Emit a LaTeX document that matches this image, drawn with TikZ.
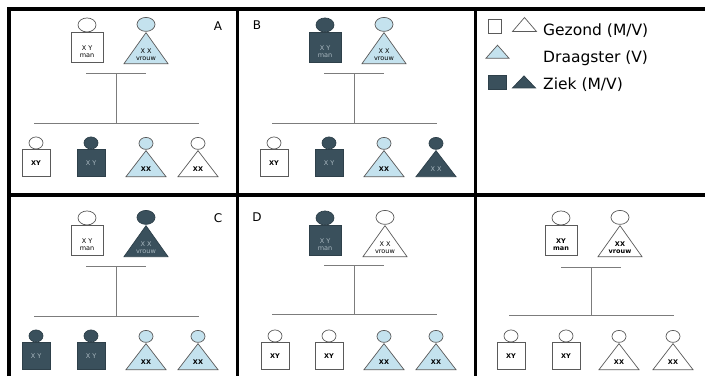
\documentclass[tikz,border=0pt]{standalone}
\usepackage{fontspec}
\setmainfont{DejaVu Sans}
\usepackage{tikz}
\usetikzlibrary{positioning,shapes.geometric,calc}

\definecolor{carrier}{HTML}{C4E2EE}
\definecolor{ill}{HTML}{3A505C}
\definecolor{edge}{HTML}{5A5A5A}
\definecolor{kin}{HTML}{7C7C7C}
\definecolor{pale}{HTML}{A9B8C0}

% one person: body, head on top, text inside
\newcommand\man[5]{%
  \node[#4,#3,anchor=south] (#1) at (#2) {};
  \node[#4 head,#3,above=0pt of #1] (#1h) {};
  \node[txt,#4 txt,#3 text] (#1t) at (#1) {#5};}
\newcommand\woman[5]{%
  \node[#4,#3,anchor=lower side] (#1) at (#2) {};
  \node[#4 head,#3,above=0pt of #1.apex] (#1h) {};
  \node[txt,#3 text] (#1t) at ($(#1.apex)!0.7!(#1.lower side)$) {#5};}

\begin{document}
\begin{tikzpicture}[x=1pt,y=-1pt,
    frame/.style={line width=3.6pt},
    line/.style={draw=kin,line width=1pt},
    body/.style={draw=edge,line width=0.7pt,inner sep=0pt},
    psq/.style={body,rectangle,minimum width=32pt,minimum height=30pt},
    csq/.style={body,rectangle,minimum width=28pt,minimum height=27pt},
    ptri/.style={body,isosceles triangle,isosceles triangle stretches,
                 shape border rotate=90,minimum width=44pt,minimum height=31pt},
    ctri/.style={body,isosceles triangle,isosceles triangle stretches,
                 shape border rotate=90,minimum width=40pt,minimum height=26pt},
    psq head/.style={body,ellipse,minimum width=18pt,minimum height=14pt},
    ptri head/.style={psq head},
    csq head/.style={body,ellipse,minimum width=14pt,minimum height=12pt},
    ctri head/.style={csq head},
    psq txt/.style={yshift=-4pt},
    csq txt/.style={},
    txt/.style={inner sep=0pt,align=center,font=\fontsize{6.5}{7}\selectfont},
    well/.style={fill=white},
    well text/.style={text=black},
    carrier/.style={fill=carrier},
    carrier text/.style={text=black},
    ill/.style={fill=ill,draw=ill!80!black},
    ill text/.style={text=pale},
    letter/.style={font=\fontsize{12}{12}\selectfont},
    key/.style={anchor=base west,inner sep=0pt,font=\fontsize{15.5}{15.5}\selectfont}]
  \useasboundingbox (0,0) rectangle (705,376);

  % panel A
  \man{Af}{87,63}{well}{psq}{X Y\\man}
  \woman{Am}{146,64}{carrier}{ptri}{X X\\vrouw}
  \man{A1}{36,177}{well}{csq}{\textbf{XY}}
  \man{A2}{91,177}{ill}{csq}{X Y}
  \woman{A3}{146,177}{carrier}{ctri}{\textbf{XX}}
  \woman{A4}{198,177}{well}{ctri}{\textbf{XX}}
  \coordinate (Au) at (116,73);
  \coordinate (As) at (116,123);
  \draw[line] ([xshift=-30pt]Au) -- ([xshift=30pt]Au) (Au) -- (As)
              ([xshift=-82pt]As) -- ([xshift=83pt]As);
  \node[letter] (Al) at (218,26) {A};

  % panel B
  \begin{scope}[shift={(238,0)}]
  \man{Bf}{87,63}{ill}{psq}{X Y\\man}
  \woman{Bm}{146,64}{carrier}{ptri}{X X\\vrouw}
  \man{B1}{36,177}{well}{csq}{\textbf{XY}}
  \man{B2}{91,177}{ill}{csq}{X Y}
  \woman{B3}{146,177}{carrier}{ctri}{\textbf{XX}}
  \woman{B4}{198,177}{ill}{ctri}{X X}
  \coordinate (Bu) at (116,73);
  \coordinate (Bs) at (116,123);
  \draw[line] ([xshift=-30pt]Bu) -- ([xshift=30pt]Bu) (Bu) -- (Bs)
              ([xshift=-82pt]Bs) -- ([xshift=83pt]Bs);
  \node[letter] (Bl) at (19,25) {B};
  \end{scope}

  % panel C
  \begin{scope}[shift={(0,193)}]
  \man{Cf}{87,63}{well}{psq}{X Y\\man}
  \woman{Cm}{146,64}{ill}{ptri}{X X\\vrouw}
  \man{C1}{36,177}{ill}{csq}{X Y}
  \man{C2}{91,177}{ill}{csq}{X Y}
  \woman{C3}{146,177}{carrier}{ctri}{\textbf{XX}}
  \woman{C4}{198,177}{carrier}{ctri}{\textbf{XX}}
  \coordinate (Cu) at (116,73);
  \coordinate (Cs) at (116,123);
  \draw[line] ([xshift=-30pt]Cu) -- ([xshift=30pt]Cu) (Cu) -- (Cs)
              ([xshift=-82pt]Cs) -- ([xshift=83pt]Cs);
  \node[letter] (Cl) at (218,25) {C};
  \end{scope}

  % panel D
  \begin{scope}[shift={(238,193)}]
  \man{Df}{87,63}{ill}{psq}{X Y\\man}
  \woman{Dm}{147,64}{well}{ptri}{X X\\vrouw}
  \man{D1}{37,177}{well}{csq}{\textbf{XY}}
  \man{D2}{91,177}{well}{csq}{\textbf{XY}}
  \woman{D3}{146,177}{carrier}{ctri}{\textbf{XX}}
  \woman{D4}{198,177}{carrier}{ctri}{\textbf{XX}}
  \coordinate (Du) at (116,72);
  \coordinate (Ds) at (116,121);
  \draw[line] ([xshift=-30pt]Du) -- ([xshift=30pt]Du) (Du) -- (Ds)
              ([xshift=-82pt]Ds) -- ([xshift=83pt]Ds);
  \node[letter] (Dl) at (19,24) {D};
  \end{scope}

  % panel E
  \begin{scope}[shift={(474,193)}]
  \man{Ef}{87,63}{well}{psq}{\textbf{XY}\\\textbf{man}}
  \woman{Em}{146,64}{well}{ptri}{\textbf{XX}\\\textbf{vrouw}}
  \man{E1}{37,177}{well}{csq}{\textbf{XY}}
  \man{E2}{92,177}{well}{csq}{\textbf{XY}}
  \woman{E3}{145,177}{well}{ctri}{\textbf{XX}}
  \woman{E4}{199,177}{well}{ctri}{\textbf{XX}}
  \coordinate (Eu) at (117,74);
  \coordinate (Es) at (117,122);
  \draw[line] ([xshift=-30pt]Eu) -- ([xshift=30pt]Eu) (Eu) -- (Es)
              ([xshift=-82pt]Es) -- ([xshift=83pt]Es);
  \end{scope}

  % key
  \node[body,well,minimum width=13pt,minimum height=14pt] (k1) at (495,26) {};
  \node[body,well,isosceles triangle,isosceles triangle stretches,
        shape border rotate=90,minimum width=24pt,minimum height=14pt] (k2) at (524.5,26) {};
  \node[body,carrier,isosceles triangle,isosceles triangle stretches,
        shape border rotate=90,minimum width=23pt,minimum height=13pt] (k3) at (497.5,53) {};
  \node[body,ill,minimum width=18pt,minimum height=14pt] (k4) at (497.5,82) {};
  \node[body,ill,isosceles triangle,isosceles triangle stretches,
        shape border rotate=90,minimum width=23pt,minimum height=12pt] (k5) at (524,83) {};
  \node[key] (k1t) at (543,35.5) {Gezond (M/V)};
  \node[key] (k3t) at (543,62.5) {Draagster (V)};
  \node[key] (k4t) at (543,89) {Ziek (M/V)};

  % frame
  \draw[frame] (9,376) -- (9,9) -- (705,9);
  \draw[frame] (237.5,9) -- (237.5,376) (475.5,9) -- (475.5,376)
               (9,195) -- (705,195);
\end{tikzpicture}
\end{document}
